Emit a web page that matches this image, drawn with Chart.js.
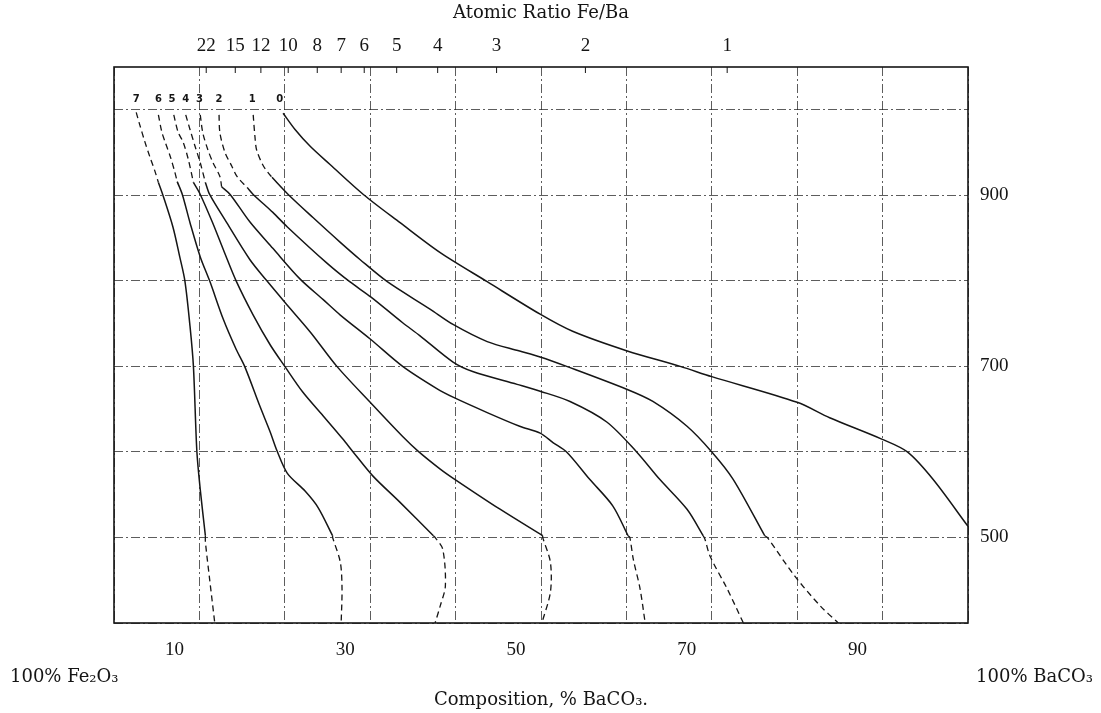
<!DOCTYPE html>
<html>
<head>
<meta charset="utf-8">
<title>Atomic Ratio Fe/Ba</title>
<script src="https://cdn.jsdelivr.net/npm/chart.js@4.4.1/dist/chart.umd.min.js"></script>
<style>
  html, body { margin: 0; padding: 0; background: #ffffff; }
  #wrap { width: 1101px; height: 713px; position: relative; }
  canvas { display: block; }
</style>
</head>
<body>
<div id="wrap"><canvas id="c" width="1101" height="713"></canvas></div>
<script>
// ---------- axis labels ----------
const bottomLabels = [10, 30, 50, 70, 90];
const yLabels = [500, 700, 900];
const yGridValues = [400, 500, 600, 700, 800, 900, 1000];
const ratioLabels = ['22', '15', '12', '10', '8', '7', '6', '5', '4', '3', '2', '1'];
const ratioPos = [10.8, 14.2, 17.2, 20.4, 23.8, 26.6, 29.3, 33.1, 37.9, 44.8, 55.2, 71.8];

// ---------- curve labels (top, above 1000) ----------
const curveNames = ['0', '1', '2', '3', '4', '5', '6', '7'];
const curveLabelX = [19.4, 16.2, 12.3, 10.0, 8.4, 6.8, 5.2, 2.6];
const curveLabelY = 1012;

// ---------- curves: [% BaCO3, temperature] ----------
const c0Solid = [[19.8,996],[21.2,977],[23.0,957],[25.3,936],[29.2,901],[33.5,868],[38.2,833],[43.7,799],[49.9,761],[53.7,741],[60.1,718],[66.3,700],[70.0,688],[80.0,658],[83.8,640],[89.9,615],[92.9,600],[95.9,568],[100,513]];

const c1Top = [[16.3,994],[16.5,969],[16.7,953],[17.4,936],[18.0,927],[18.5,921]];
const c1Solid = [[18.5,921],[20.4,901],[23.3,874],[26.5,845],[28.8,825],[32.0,799],[37.0,767],[39.7,749],[43.7,729],[47.5,718],[49.9,711],[53.0,700],[60.1,673],[63.1,659],[67.1,630],[70.0,600],[72.5,568],[76.2,502]];
const c1Bottom = [[76.2,502],[76.5,500],[79.7,455],[82.7,420],[84.8,400]];

const c2Top = [[12.3,994],[12.4,973],[13.0,950],[13.8,934],[14.4,922],[15.6,909]];
const c2Solid = [[15.6,909],[16.3,901],[18.6,880],[20.3,863],[24.9,821],[27.6,799],[30.1,781],[33.8,751],[35.8,736],[39.7,705],[42.0,694],[47.2,679],[49.9,671],[53.4,659],[57.7,635],[61.2,600],[63.9,568],[67.1,533],[69.0,502]];
const c2Bottom = [[69.0,502],[69.2,498],[69.8,478],[71.8,440],[73.7,400]];

const c3Top = [[10.1,994],[10.4,973],[11.0,953],[11.6,938],[12.4,922],[12.6,910]];
const c3Solid = [[12.6,910],[13.6,901],[15.9,869],[18.6,838],[21.8,802],[24.5,778],[26.5,760],[30.0,732],[33.8,700],[37.8,674],[39.7,664],[43.7,646],[47.5,630],[49.9,622],[51.4,611],[53.0,600],[55.7,568],[58.4,537],[60.2,502]];
const c3Bottom = [[60.2,502],[60.4,500],[60.8,475],[61.6,440],[62.2,400]];

const c4Top = [[8.4,994],[8.9,977],[9.5,957],[10.1,938],[10.7,915]];
const c4Solid = [[10.7,915],[11.2,901],[13.2,868],[15.9,825],[17.9,800],[20.0,775],[23.0,740],[26.1,700],[30.0,658],[33.8,618],[35.6,601],[38.2,580],[39.9,568],[45.2,533],[50.2,502]];
const c4Bottom = [[50.2,502],[50.2,500],[51.1,471],[51.1,436],[50.1,400]];

const c5Top = [[7.0,994],[7.5,974],[8.1,962],[8.7,942],[9.3,915]];
const c5Solid = [[9.3,915],[10.1,901],[11.5,869],[12.9,834],[14.3,800],[16.3,760],[18.3,725],[20.0,700],[22.1,670],[24.5,642],[26.8,615],[28.0,600],[30.3,572],[33.5,541],[37.4,502]];
const c5Bottom = [[37.4,502],[37.6,500],[38.5,486],[38.8,443],[38.2,420],[37.6,400]];

const c6Top = [[5.2,994],[5.6,974],[6.0,962],[6.6,945],[7.1,928],[7.4,916]];
const c6Solid = [[7.4,916],[8.0,901],[8.9,868],[10.1,828],[11.2,800],[12.8,755],[14.3,720],[15.3,700],[17.1,653],[18.3,623],[19.1,601],[20.3,575],[22.4,554],[23.9,535],[25.6,502]];
const c6Bottom = [[25.6,502],[25.6,500],[26.5,471],[26.7,440],[26.6,400]];

const c7Top = [[2.6,997],[3.0,983],[3.6,963],[4.2,945],[4.8,928],[5.2,915]];
const c7Solid = [[5.2,915],[5.7,901],[6.9,863],[7.7,828],[8.3,800],[8.9,747],[9.3,700],[9.7,601],[10.1,556],[10.7,502]];
const c7Bottom = [[10.7,502],[10.7,495],[11.2,451],[11.8,400]];

// ---------- build datasets ----------
const INK = '#151515';
const GRID = 'rgba(30,30,30,0.72)';
const NUMFONT = '"Liberation Serif", "Times New Roman", serif';
const WORDFONT = '"DejaVu Serif", "Liberation Serif", serif';
const solidParts = [c0Solid, c1Solid, c2Solid, c3Solid, c4Solid, c5Solid, c6Solid, c7Solid];
const dashedParts = [c1Top, c1Bottom, c2Top, c2Bottom, c3Top, c3Bottom, c4Top, c4Bottom,
                     c5Top, c5Bottom, c6Top, c6Bottom, c7Top, c7Bottom];
const toPts = a => a.map(([x, y]) => ({ x, y }));

const datasets = [];
solidParts.forEach(p => datasets.push({
  data: toPts(p), borderColor: INK, borderWidth: 1.5, pointRadius: 0,
  tension: 0.3, fill: false, xAxisID: 'x', yAxisID: 'y'
}));
dashedParts.forEach(p => datasets.push({
  data: toPts(p), borderColor: INK, borderWidth: 1.3, borderDash: [6, 4], pointRadius: 0,
  tension: 0.3, fill: false, xAxisID: 'x', yAxisID: 'y'
}));

const overlay = {
  id: 'overlay',
  afterDatasetsDraw(chart) {
    const { ctx, chartArea: a, scales } = chart;
    ctx.save();
    ctx.setLineDash([]);
    ctx.strokeStyle = INK;
    ctx.lineWidth = 1.6;
    ctx.strokeRect(a.left, a.top, a.right - a.left, a.bottom - a.top);
    // small ratio ticks pointing into the plot
    ctx.lineWidth = 1;
    ratioPos.forEach(v => {
      const px = scales.xTop.getPixelForValue(v);
      ctx.beginPath(); ctx.moveTo(px, a.top); ctx.lineTo(px, a.top + 6); ctx.stroke();
    });
    // curve numbers
    ctx.fillStyle = INK;
    ctx.font = 'bold 10px "DejaVu Sans", sans-serif';
    ctx.textAlign = 'center'; ctx.textBaseline = 'middle';
    curveNames.forEach((n, i) => {
      ctx.fillText(n, scales.x.getPixelForValue(curveLabelX[i]), scales.y.getPixelForValue(curveLabelY));
    });
    // end labels of composition axis
    ctx.font = '18px ' + WORDFONT;
    ctx.textAlign = 'left';
    ctx.fillText('100% Fe\u2082O\u2083', 10, 677);
    ctx.textAlign = 'right';
    ctx.fillText('100% BaCO\u2083', 1093, 677);
    ctx.restore();
  }
};

new Chart(document.getElementById('c'), {
  type: 'line',
  data: { datasets },
  plugins: [overlay],
  options: {
    responsive: false,
    animation: false,
    events: [],
    layout: { padding: { left: 114, right: 0, top: 0, bottom: 0 } },
    plugins: { legend: { display: false }, tooltip: { enabled: false }, title: { display: false } },
    scales: {
      x: {
        type: 'linear', position: 'bottom', min: 0, max: 100,
        ticks: {
          stepSize: 10, autoSkip: false, maxRotation: 0, minRotation: 0,
          labelOffset: -25, padding: 16, color: INK,
          font: { family: NUMFONT, size: 19 },
          callback: v => bottomLabels.includes(v) ? String(v) : ''
        },
        grid: { color: GRID, lineWidth: 1, drawTicks: false },
        border: { display: false, dash: [9, 3, 2, 3] },
        title: {
          display: true, text: 'Composition, % BaCO\u2083.', color: INK,
          font: { family: WORDFONT, size: 18 }, padding: { top: 0, bottom: 2 }
        },
        afterFit: s => { s.height = 90; }
      },
      xTop: {
        type: 'linear', position: 'top', min: 0, max: 100,
        afterBuildTicks: s => { s.ticks = ratioPos.map(v => ({ value: v })); },
        ticks: {
          autoSkip: false, maxRotation: 0, minRotation: 0, padding: 10, color: INK,
          font: { family: NUMFONT, size: 19 },
          callback: (v, i) => ratioLabels[i]
        },
        grid: { display: true, drawOnChartArea: false, drawTicks: false },
        border: { display: false },
        title: {
          display: true, text: 'Atomic Ratio Fe/Ba', color: INK,
          font: { family: WORDFONT, size: 18 }, padding: { top: 3, bottom: 0 }
        },
        afterFit: s => { s.height = 67; }
      },
      y: {
        type: 'linear', position: 'right', min: 400, max: 1050,
        afterBuildTicks: s => { s.ticks = yGridValues.map(v => ({ value: v })); },
        ticks: {
          autoSkip: false, padding: 12, color: INK,
          font: { family: NUMFONT, size: 19 },
          callback: v => yLabels.includes(v) ? String(v) : ''
        },
        grid: { color: GRID, lineWidth: 1, drawTicks: false },
        border: { display: false, dash: [9, 3, 2, 3] },
        afterFit: s => { s.width = 133; }
      }
    }
  }
});
</script>
</body>
</html>
